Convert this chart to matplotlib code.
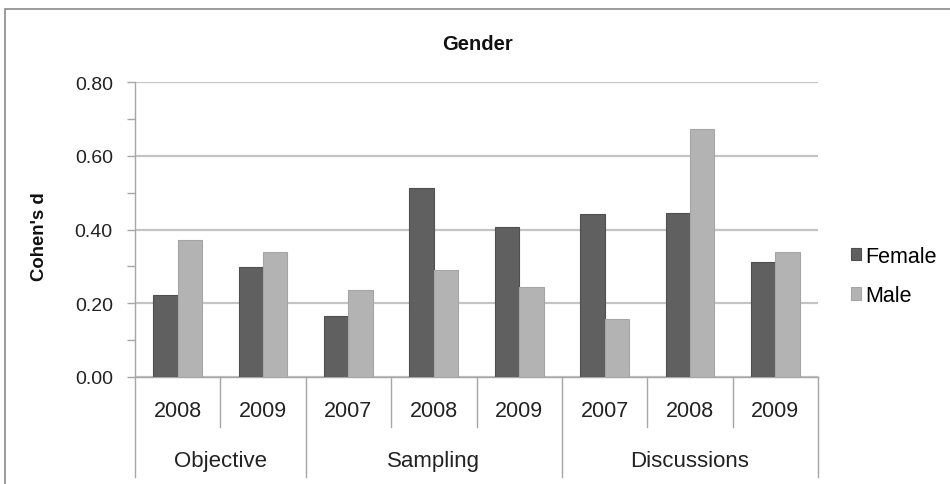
import matplotlib
matplotlib.use("Agg")
import matplotlib.pyplot as plt
from matplotlib.patches import Rectangle
from matplotlib.transforms import blended_transform_factory
import numpy as np

plt.rcParams['font.family'] = ['Liberation Sans', 'DejaVu Sans']

# Data
groups = ["Objective", "Sampling", "Discussions"]
group_years = [["2008", "2009"], ["2007", "2008", "2009"], ["2007", "2008", "2009"]]
female = [0.222, 0.298, 0.166, 0.512, 0.407, 0.443, 0.446, 0.312]
male = [0.372, 0.340, 0.236, 0.289, 0.245, 0.156, 0.673, 0.340]
series_names = ["Female", "Male"]
yticks = [0.0, 0.2, 0.4, 0.6, 0.8]

W, H = 950, 485
fig = plt.figure(figsize=(W / 100, H / 100), dpi=100)

def fx(px):
    return px / W

def fy(py):
    return 1 - py / H

# Outer chart frame
fig.add_artist(Rectangle((fx(5), fy(H + 20)), fx(W + 20), fy(9.5) - fy(H + 20),
                         transform=fig.transFigure, fill=False,
                         edgecolor="#8a8a8a", linewidth=1.2))

ax = fig.add_axes([fx(135), fy(378), fx(818) - fx(135), fy(83) - fy(378)])

n = len(female)
x = np.arange(n) + 0.5
bw = 1 / 3.5
ax.bar(x - bw / 2, female, bw, color="#606060", edgecolor="#4f4f4f", linewidth=0.8,
       label=series_names[0], zorder=3)
ax.bar(x + bw / 2, male, bw, color="#b3b3b3", edgecolor="#a5a5a5", linewidth=0.8,
       label=series_names[1], zorder=3)

ax.set_xlim(0, n)
ax.set_ylim(0, 0.8)
ax.set_yticks(yticks)
ax.set_yticklabels([f"{v:.2f}" for v in yticks], fontsize=14, color="#222222")
ax.set_yticks(np.arange(0.1, 0.8, 0.2), minor=True)
ax.tick_params(axis="y", which="both", direction="out", length=6, width=1,
               color="#a6a6a6", pad=10)
ax.set_xticks([])
ax.grid(axis="y", which="major", color="#c4c4c4", linewidth=1.6, zorder=0)

for s in ["top", "right"]:
    ax.spines[s].set_visible(False)
ax.spines["left"].set_color("#a6a6a6")
ax.spines["bottom"].set_color("#a6a6a6")
ax.spines["left"].set_linewidth(1.0)
ax.spines["bottom"].set_linewidth(1.0)

# Two-level category axis
tr = blended_transform_factory(ax.transData, ax.transAxes)
line_kw = dict(color="#a6a6a6", linewidth=1.0, transform=tr, clip_on=False)
year_y = -0.112
group_y = -0.283
inner_bottom = -0.169
outer_bottom = -0.34

pos = 0
edges = [0]
for g, yrs in zip(groups, group_years):
    for i, yr in enumerate(yrs):
        ax.text(pos + i + 0.5, year_y, yr, transform=tr, ha="center", va="center",
                fontsize=15.5, color="#222222")
        if i > 0:
            ax.plot([pos + i, pos + i], [0, inner_bottom], **line_kw)
    ax.text(pos + len(yrs) / 2, group_y, g, transform=tr, ha="center", va="center",
            fontsize=16, color="#222222")
    pos += len(yrs)
    edges.append(pos)
for e in edges:
    ax.plot([e, e], [0, outer_bottom], **line_kw)

fig.text(0.503, fy(44), "Gender", ha="center", va="center", fontsize=14.5,
         fontweight="bold", color="#111111")
fig.text(fx(40), fy(237), "Cohen's d", ha="center", va="center", rotation=90,
         fontsize=13.3, fontweight="bold", color="#111111")

leg = ax.legend(loc="center left", bbox_to_anchor=(fx(851), fy(277)),
                bbox_transform=fig.transFigure, frameon=False, fontsize=15.5,
                handlelength=0.45, handleheight=0.5, handletextpad=0.2,
                labelspacing=0.85, borderpad=0, borderaxespad=0)

fig.savefig("out.png", dpi=100)
